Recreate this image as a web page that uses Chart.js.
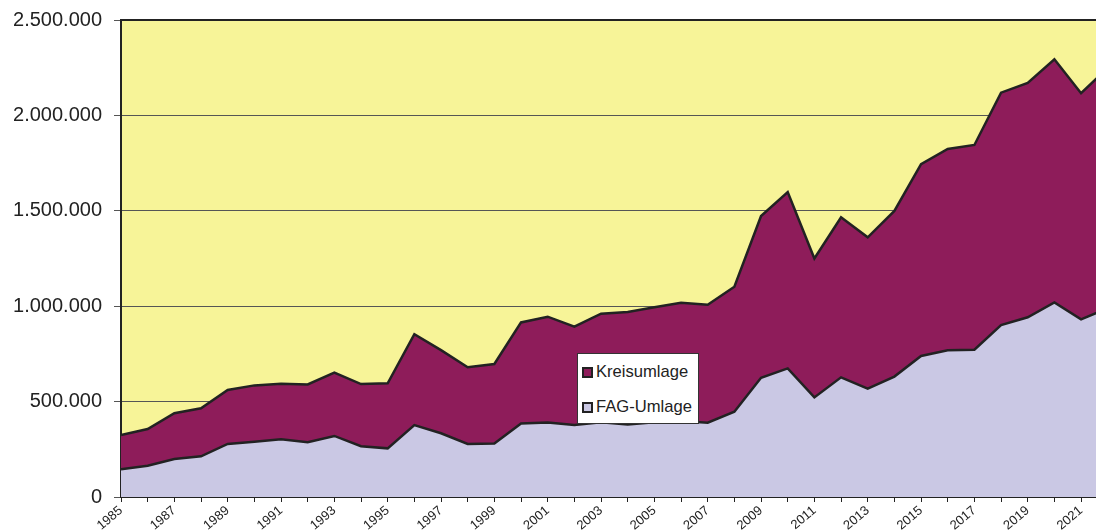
<!DOCTYPE html>
<html>
<head>
<meta charset="utf-8">
<script src="https://cdn.jsdelivr.net/npm/chart.js@4/dist/chart.umd.min.js"></script>
<style>
  body { margin: 0; background: #fff; }
  #wrap { position: relative; width: 1096px; height: 530px; }
  #legend {
    position: absolute; left: 577px; top: 353px; width: 122px; height: 71px;
    background: #fff; border: 1px solid #333; box-sizing: border-box;
    font-family: "Liberation Sans", Arial, sans-serif; font-size: 16.6px; color: #222;
  }
  .item { position: absolute; left: 4px; display: flex; align-items: center; }
  .box { width: 7px; height: 7px; border: 2px solid #222; margin-right: 3px; }
</style>
</head>
<body>
<div id="wrap">
  <canvas id="chart" width="1096" height="530"></canvas>
  <div id="legend">
    <div class="item" style="top:8px"><span class="box" style="background:#8e1c5a"></span>Kreisumlage</div>
    <div class="item" style="top:43px"><span class="box" style="background:#cac8e4"></span>FAG-Umlage</div>
  </div>
</div>
<script>
const years = [1985, 1986, 1987, 1988, 1989, 1990, 1991, 1992, 1993, 1994, 1995, 1996, 1997, 1998, 1999,
  2000, 2001, 2002, 2003, 2004, 2005, 2006, 2007, 2008, 2009, 2010, 2011, 2012, 2013, 2014, 2015,
  2016, 2017, 2018, 2019, 2020, 2021, 2022];

const fagUmlage = [145000, 164000, 199000, 213000, 278000, 290000, 302000, 287000, 320000, 266000, 255000,
  377000, 334000, 278000, 280000, 385000, 391000, 377000, 392000, 380000, 392000, 398000, 389000,
  447000, 625000, 674000, 522000, 627000, 568000, 631000, 739000, 769000, 772000, 901000, 942000,
  1020000, 931000, 990000];

const gesamt = [325000, 356000, 439000, 465000, 561000, 585000, 594000, 590000, 652000, 592000, 596000,
  853000, 770000, 680000, 697000, 915000, 945000, 893000, 961000, 970000, 994000, 1018000, 1008000,
  1102000, 1473000, 1598000, 1250000, 1466000, 1361000, 1499000, 1745000, 1824000, 1845000, 2119000,
  2170000, 2294000, 2116000, 2250000];

const kreisumlage = gesamt.map((v, i) => v - fagUmlage[i]);

const plotBg = {
  id: 'plotBg',
  beforeDraw(chart) {
    const { ctx, chartArea: a } = chart;
    ctx.save();
    ctx.fillStyle = '#f7f498';
    ctx.fillRect(a.left, a.top, a.right - a.left, a.bottom - a.top);
    ctx.restore();
  },
  afterDraw(chart) {
    const { ctx, chartArea: a } = chart;
    ctx.save();
    ctx.strokeStyle = '#222';
    ctx.lineWidth = 2;
    ctx.beginPath();
    ctx.moveTo(a.left, a.top);
    ctx.lineTo(a.right, a.top);
    ctx.stroke();
    ctx.restore();
  }
};

const ctx = document.getElementById('chart');
new Chart(ctx, {
  type: 'line',
  data: {
    datasets: [{
      label: 'FAG-Umlage',
      data: years.map((y, i) => ({ x: y, y: fagUmlage[i] })),
      backgroundColor: '#cac8e4',
      borderColor: '#222',
      borderWidth: 2.5,
      fill: 'origin',
      pointRadius: 0
    }, {
      label: 'Kreisumlage',
      data: years.map((y, i) => ({ x: y, y: kreisumlage[i] })),
      backgroundColor: '#8e1c5a',
      borderColor: '#222',
      borderWidth: 2.5,
      fill: '-1',
      pointRadius: 0
    }]
  },
  options: {
    responsive: false,
    animation: false,
    layout: { padding: { top: 20, right: 0, left: 0, bottom: 0 } },
    plugins: { legend: { display: false }, tooltip: { enabled: false } },
    scales: {
      x: {
        type: 'linear',
        min: 1985,
        max: 2021.56,
        afterFit: (s) => { s.height = 33; s.paddingLeft = 0; s.paddingRight = 0; },
        grid: { drawOnChartArea: false, tickLength: 5, color: '#222' },
        border: { color: '#222', width: 2 },
        ticks: {
          stepSize: 1,
          includeBounds: false,
          autoSkip: false,
          minRotation: 40,
          maxRotation: 40,
          padding: 1,
          color: '#222',
          font: { family: 'Liberation Sans', size: 13 },
          callback: (v) => (Number.isInteger(v) && v % 2 === 1) ? String(v) : ''
        }
      },
      y: {
        stacked: true,
        min: 0,
        max: 2500000,
        afterFit: (s) => { s.width = 121; s.paddingTop = 0; s.paddingBottom = 0; },
        grid: { color: '#555', tickLength: 7, lineWidth: 1 },
        border: { color: '#222', width: 2 },
        ticks: {
          stepSize: 500000,
          padding: 12,
          color: '#222',
          font: { family: 'Liberation Sans', size: 20 },
          callback: (v) => v.toLocaleString('de-DE')
        }
      }
    }
  },
  plugins: [plotBg]
});
</script>
</body>
</html>
